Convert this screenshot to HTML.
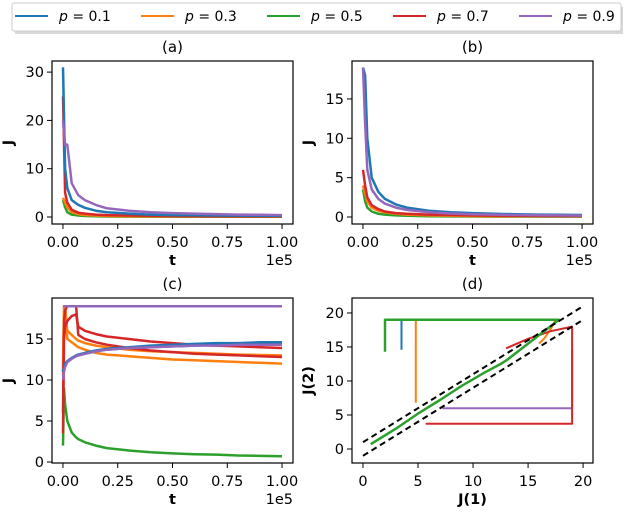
<!DOCTYPE html>
<html><head><meta charset="utf-8"><style>
body{margin:0;background:#fff;width:626px;height:510px;overflow:hidden;font-family:"DejaVu Sans","Liberation Sans",sans-serif}
svg text{font-family:"DejaVu Sans","Liberation Sans",sans-serif}
</style></head><body>
<svg id="fig" width="626" height="510">
<g>
<rect x="15" y="7" width="608" height="27" fill="#d8d8d8"/>
<rect x="12" y="3" width="609" height="28" fill="#fff" stroke="#ccc" rx="2"/>
</g>
</svg>
<script>
const colors=['#1f77b4','#ff7f0e','#2ca02c','#d62728','#9467bd'];
const pLabels=['0.1','0.3','0.5','0.7','0.9'];
const tA=[0,0.01,0.02,0.04,0.07,0.1,0.15,0.2,0.3,0.4,0.5,0.6,0.7,0.8,0.9,1.0];
const aBlue=[31,10,6,3.5,2.5,1.9,1.3,1.0,0.7,0.5,0.4,0.35,0.3,0.28,0.25,0.22];
const aOrange=[4,3,2,1,0.6,0.4,0.3,0.2,0.15,0.12,0.1,0.1,0.1,0.1,0.1,0.1];
const aGreen=[3.5,2,1,0.5,0.3,0.2,0.15,0.1,0.08,0.06,0.05,0.05,0.05,0.05,0.05,0.05];
const aRed=[25,5,3,1.5,0.9,0.7,0.5,0.4,0.3,0.25,0.2,0.18,0.15,0.14,0.13,0.12];
const aPurple=[20,15,15,7,4.5,3.5,2.5,1.8,1.3,1.0,0.8,0.7,0.6,0.5,0.45,0.4];
const bBlue=[19,18,10,5,3.2,2.3,1.6,1.2,0.8,0.6,0.5,0.4,0.35,0.3,0.28,0.25];
const bOrange=[4,3,2,1.2,0.8,0.6,0.4,0.3,0.2,0.15,0.12,0.1,0.1,0.1,0.1,0.1];
const bGreen=[3.5,2,1.2,0.7,0.4,0.3,0.2,0.15,0.1,0.08,0.06,0.05,0.05,0.05,0.05,0.05];
const bRed=[6,4,2.5,1.5,1,0.7,0.5,0.4,0.3,0.25,0.2,0.18,0.15,0.14,0.13,0.12];
const bPurple=[19,12,6,3.5,2.3,1.7,1.2,0.9,0.6,0.45,0.35,0.3,0.25,0.22,0.2,0.18];
const tC=[0,0.005,0.01,0.02,0.04,0.06,0.07,0.1,0.15,0.2,0.3,0.4,0.5,0.6,0.7,0.8,0.9,1.0];
const cPurpleFlat=[19,19,19,19,19,19,19,19,19,19,19,19,19,19,19,19,19,19];
const cPurpleRise=[10,11,11.6,12.2,12.6,12.9,13,13.2,13.5,13.7,13.9,14.0,14.1,14.2,14.2,14.3,14.3,14.3];
const cBlue1=[11,11.5,12,12.3,12.7,13,13.1,13.3,13.6,13.8,14.0,14.2,14.3,14.4,14.5,14.5,14.6,14.6];
const cBlue2=[11,11.4,11.9,12.2,12.6,12.9,13,13.2,13.5,13.7,13.9,14.0,14.1,14.2,14.3,14.3,14.4,14.4];
const cRed1=[3.5,15,16.5,17.2,17.8,18,16.5,16,15.6,15.3,15,14.7,14.5,14.3,14.2,14.1,14.0,13.9];
const cRed2=[6,17,18.5,19,19,19,15.5,15,14.6,14.3,13.9,13.6,13.4,13.2,13.1,13,12.9,12.8];
const cOrange1=[11,19,19,16,15.5,15,14.8,14.5,14.2,14,13.7,13.5,13.4,13.3,13.2,13.1,13.05,13];
const cOrange2=[11,18,19,15,14.6,14.2,14.0,13.7,13.3,13.1,12.9,12.7,12.5,12.4,12.3,12.2,12.1,12.0];
const cGreen=[2,9,7,5,3.6,3.0,2.8,2.4,2.0,1.7,1.4,1.2,1.05,0.95,0.9,0.8,0.75,0.7];
const dGreenX=[2,2,17.8,17,15,13,12.5,11,9,7,5,3,0.7];
const dGreenY=[14.3,19,19,18,15.5,13,12.5,11.2,9.3,7.2,5.2,3,0.7];
const dBlueX=[3.5,3.5,17.8];
const dBlueY=[14.6,19,19];
const dOrangeX=[4.8,4.8,17.5,17,16.5,16];
const dOrangeY=[6.8,19,19,17.5,16.3,15.5];
const dPurpleX=[7.2,19,19];
const dPurpleY=[6,6,14.6];
const dRedX=[5.7,19,19,17,15,13];
const dRedY=[3.7,3.7,18,17.3,16.2,14.8];
const dDashX=[0,20];
const xTicksT=['0.00','0.25','0.50','0.75','1.00'];
const NS='http://www.w3.org/2000/svg';
const svg=document.getElementById('fig');
function el(tag,attrs,parent){const e=document.createElementNS(NS,tag);for(const k in attrs)e.setAttribute(k,attrs[k]);(parent||svg).appendChild(e);return e;}
function txt(s,x,y,attrs,parent){const e=el('text',Object.assign({x:x,y:y,'font-size':14.5,fill:'#000'},attrs||{}),parent);e.textContent=s;return e;}
const legX=[15,141,267,393,519];
for(let i=0;i<5;i++){
 const g=el('g',{});
 
 
 el('line',{x1:legX[i],x2:legX[i]+33,y1:16,y2:16,stroke:colors[i],'stroke-width':2},g);
 const t=el('text',{x:legX[i]+44,y:21,'font-size':14},g);
 t.innerHTML='<tspan font-style="italic">p</tspan> = '+pLabels[i];
}
function axes(name,box,xr,yr,xt,xtl,yt,title,xlabel,ylabel,sci){
 const g=el('g',{});
 
 
 const X=v=>box.x0+(v-xr[0])/(xr[1]-xr[0])*(box.x1-box.x0);
 const Y=v=>box.y1-(v-yr[0])/(yr[1]-yr[0])*(box.y1-box.y0);
 const plot=el('g',{},g);
 
 
 el('rect',{x:box.x0,y:box.y0,width:box.x1-box.x0,height:box.y1-box.y0,fill:'none',stroke:'#000','stroke-width':1.2},g);
 xt.forEach((v,i)=>{el('line',{x1:X(v),x2:X(v),y1:box.y1,y2:box.y1+5,stroke:'#000'},g);txt(xtl[i],X(v),box.y1+23,{'text-anchor':'middle'},g);});
 yt.forEach(v=>{el('line',{x1:box.x0-5,x2:box.x0,y1:Y(v),y2:Y(v),stroke:'#000'},g);txt(String(v),box.x0-8,Y(v)+5,{'text-anchor':'end'},g);});
 const ti=txt(title,(box.x0+box.x1)/2,box.y0-9,{'text-anchor':'middle','font-size':15},g);
 
 const xl=txt(xlabel,(box.x0+box.x1)/2,box.y1+41,{'text-anchor':'middle','font-weight':'bold'},g);
 
 const yl=txt(ylabel,0,0,{'text-anchor':'middle','font-weight':'bold',transform:`translate(${box.x0-39},${(box.y0+box.y1)/2}) rotate(-90)`},g);
 
 if(sci){txt('1e5',box.x1,box.y1+41,{'text-anchor':'end'},g);}
 return {X,Y,g:plot};
}
function line(ax,xs,ys,color,name,dash,w){
 const d=xs.map((x,i)=>(i?'L':'M')+ax.X(x).toFixed(1)+' '+ax.Y(ys[i]).toFixed(1)).join(' ');
 const p=el('path',{d:d,fill:'none',stroke:color,'stroke-width':w||2.5,'stroke-linejoin':'round'},ax.g);
 if(dash)p.setAttribute('stroke-dasharray',dash);
 
 
}
const xt=[0,0.25,0.5,0.75,1];
const A=axes('panel-a',{x0:52,x1:293,y0:61,y1:224},[-0.05,1.05],[-1.45,32.3],xt,xTicksT,[0,10,20,30],'(a)','t','J',true);
line(A,tA,aGreen,colors[2],'series-a-p0.5');line(A,tA,aOrange,colors[1],'series-a-p0.3');line(A,tA,aRed,colors[3],'series-a-p0.7');line(A,tA,aBlue,colors[0],'series-a-p0.1');line(A,tA,aPurple,colors[4],'series-a-p0.9');
const B=axes('panel-b',{x0:352,x1:593,y0:61,y1:224},[-0.05,1.05],[-0.89,19.82],xt,xTicksT,[0,5,10,15],'(b)','t','J',true);
line(B,tA,bGreen,colors[2],'series-b-p0.5');line(B,tA,bOrange,colors[1],'series-b-p0.3');line(B,tA,bRed,colors[3],'series-b-p0.7');line(B,tA,bBlue,colors[0],'series-b-p0.1');line(B,tA,bPurple,colors[4],'series-b-p0.9');
const C=axes('panel-c',{x0:52,x1:293,y0:298,y1:463},[-0.05,1.05],[-0.12,20],xt,xTicksT,[0,5,10,15],'(c)','t','J',true);
line(C,tC,cGreen,colors[2],'series-c-p0.5');
line(C,tC,cOrange1,colors[1],'series-c-p0.3-a');line(C,tC,cOrange2,colors[1],'series-c-p0.3-b');
line(C,tC,cRed1,colors[3],'series-c-p0.7-a');line(C,tC,cRed2,colors[3],'series-c-p0.7-b');
line(C,tC,cBlue1,colors[0],'series-c-p0.1-a');line(C,tC,cBlue2,colors[0],'series-c-p0.1-b');
line(C,tC,cPurpleRise,colors[4],'series-c-p0.9-a');line(C,tC,cPurpleFlat,colors[4],'series-c-p0.9-b');
const D=axes('panel-d',{x0:352,x1:593,y0:298,y1:463},[-1,20.9],[-2.06,22.2],[0,5,10,15,20],['0','5','10','15','20'],[0,5,10,15,20],'(d)','J(1)','J(2)',false);
line(D,dBlueX,dBlueY,colors[0],'series-d-p0.1',null,2);
line(D,dOrangeX,dOrangeY,colors[1],'series-d-p0.3',null,2);
line(D,dPurpleX,dPurpleY,colors[4],'series-d-p0.9',null,2);
line(D,dRedX,dRedY,colors[3],'series-d-p0.7',null,2);
line(D,dGreenX,dGreenY,colors[2],'series-d-p0.5',null,2.5);
line(D,dDashX,dDashX.map(v=>v+1),'#000','upper-dashed-bound','6,4',2);
line(D,dDashX,dDashX.map(v=>v-1),'#000','lower-dashed-bound','6,4',2);
</script>
</body></html>
